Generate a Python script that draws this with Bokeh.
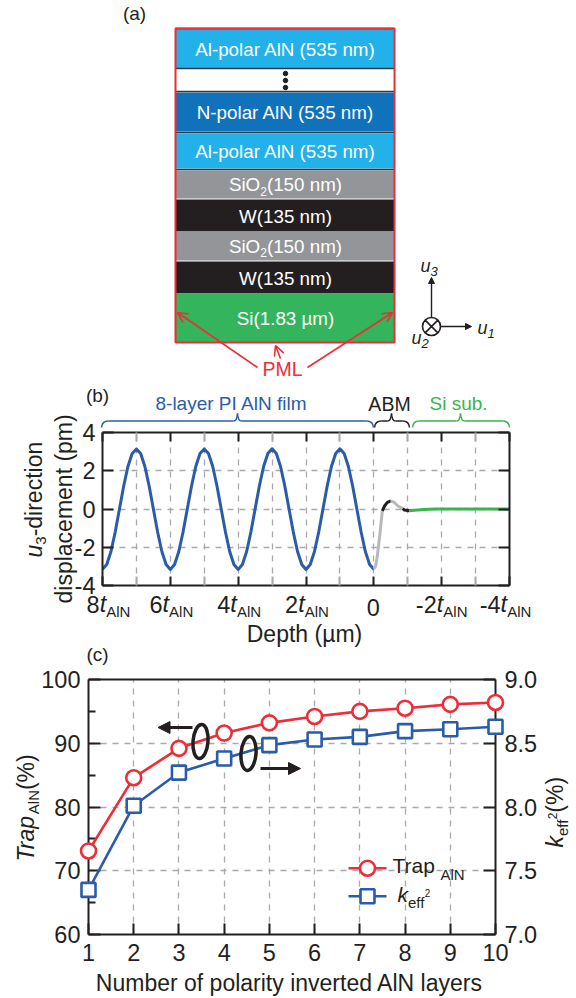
import math
from bokeh.embed import file_html
from bokeh.resources import INLINE
from bokeh.plotting import figure
from bokeh.core.properties import value
from bokeh.models import (Range1d, LinearAxis, FixedTicker, Arrow, OpenHead, NormalHead, Grid)

FONT = "Liberation Sans"
DARK = "#231f20"
GREY = "#a7a9ac"
BLUE = "#2a5caa"
RED = "#ed2d37"
GREEN = "#39b54a"

# ---------- (a) layer stack ----------
layer_names = ["Al-polar AlN (535 nm)", "", "N-polar AlN (535 nm)", "Al-polar AlN (535 nm)",
               "SiO2", "W(135 nm)", "SiO2", "W(135 nm)", "Si(1.83 \u00b5m)"]
layer_colors = ["#22b1e8", "#ffffff", "#1072bb", "#22b1e8", "#939598", "#231f20", "#939598", "#231f20", "#34b45d"]
layer_top = [28, 68, 92, 133, 170, 199, 231, 261, 293]
layer_bottom = [68, 91, 131, 168, 198, 231, 260, 293, 342]

# ---------- (b) displacement ----------
film_depth = [8 - i * 0.125 for i in range(65)]
film_u3 = [-3.15, -2.9, -2.22, -1.2, 0.0, 1.2, 2.22, 2.9, 3.13, 2.9, 2.22, 1.2, 0.0, -1.2, -2.22, -2.9,
           -3.16, -2.9, -2.22, -1.2, 0.0, 1.2, 2.22, 2.9, 3.14, 2.9, 2.22, 1.2, 0.0, -1.2, -2.22, -2.9,
           -3.16, -2.9, -2.22, -1.2, 0.0, 1.2, 2.22, 2.9, 3.15, 2.9, 2.22, 1.2, 0.0, -1.2, -2.22, -2.9,
           -3.16, -2.9, -2.22, -1.2, 0.0, 1.2, 2.22, 2.9, 3.15, 2.9, 2.22, 1.2, 0.0, -1.2, -2.22, -2.9, -3.15]
sio2_depth = [0.0, -0.05, -0.1, -0.18, -0.25]
sio2_u3 = [-3.13, -3.0, -2.5, -1.3, -0.1]
w_depth = [-0.25, -0.32, -0.4, -0.5]
w_u3 = [-0.1, 0.17, 0.35, 0.43]
sio2b_depth = [-0.5, -0.6, -0.7, -0.85]
sio2b_u3 = [0.43, 0.35, 0.17, 0.02]
wb_depth = [-0.85, -0.9, -1.05]
wb_u3 = [0.02, -0.05, -0.09]
si_depth = [-1.05, -1.2, -1.5, -1.8, -4.0]
si_u3 = [-0.09, -0.07, -0.03, 0.0, 0.0]
b_xticks = [8, 6, 4, 2, 0, -2, -4]
b_xminor = [7, 5, 3, 1, -1, -3]
b_xlabels = ["8", "6", "4", "2", "0", "-2", "-4"]
b_yticks = [-4, -2, 0, 2, 4]
b_ylabels = ["-4", "-2", "0", "2", "4"]

# ---------- (c) trapping ----------
layers = [1, 2, 3, 4, 5, 6, 7, 8, 9, 10]
trap_aln = [73.1, 84.6, 89.2, 91.6, 93.2, 94.2, 95.0, 95.5, 96.1, 96.4]
keff2 = [7.35, 8.01, 8.27, 8.38, 8.485, 8.53, 8.55, 8.595, 8.61, 8.63]
c_yticks = [60, 70, 80, 90, 100]
c_yminor = [65, 75, 85, 95]
c_rticks = [7.0, 7.5, 8.0, 8.5, 9.0]

W = 560

def bare(p, top, left=8):
    p.background_fill_color = None
    p.border_fill_color = None
    p.outline_line_color = None
    p.styles = {"position": "absolute", "left": f"{left}px", "top": f"{top}px"}
    return p

def style_axis(ax, fs="23.5px", standoff=8, tick=11):
    ax.axis_line_color = DARK
    ax.axis_line_width = 2
    ax.major_tick_in = tick
    ax.major_tick_out = 0
    ax.major_tick_line_color = DARK
    ax.major_tick_line_width = 2
    ax.minor_tick_in = 0
    ax.minor_tick_out = 0
    ax.minor_tick_line_color = None
    ax.major_label_text_font = FONT
    ax.major_label_text_font_size = fs
    ax.major_label_text_color = DARK
    ax.major_label_standoff = standoff

def no_labels(ax):
    ax.major_label_text_font_size = "1px"
    ax.major_label_text_color = None
    ax.major_label_standoff = 0

# ---------- figure (b) ----------
b = bare(figure(width=W, height=183, x_range=Range1d(8, -4), y_range=Range1d(-4, 4),
                output_backend="svg", toolbar_location=None,
                x_axis_type=None, y_axis_type=None,
                min_border_left=94, min_border_right=59, min_border_top=15, min_border_bottom=15), 417)
xt = FixedTicker(ticks=b_xticks, minor_ticks=b_xminor)
yt = FixedTicker(ticks=b_yticks)
for side in ("below", "above"):
    ax = LinearAxis(ticker=xt)
    style_axis(ax, tick=9)
    no_labels(ax)
    ax.minor_tick_in = 9
    ax.minor_tick_line_color = GREY
    ax.minor_tick_line_width = 2
    b.add_layout(ax, side)
for side in ("left", "right"):
    ax = LinearAxis(ticker=yt)
    style_axis(ax, fs="23.5px", standoff=7, tick=11)
    ax.major_label_overrides = dict(zip(b_yticks, b_ylabels))
    if side == "right":
        no_labels(ax)
    b.add_layout(ax, side)
b.add_layout(Grid(dimension=0, ticker=xt, grid_line_color=GREY, grid_line_dash="6 6", grid_line_width=1.3,
                  minor_grid_line_color=GREY, minor_grid_line_dash="6 6", minor_grid_line_width=1.3))
b.add_layout(Grid(dimension=1, ticker=yt, grid_line_color=GREY, grid_line_dash="6 6", grid_line_width=1.3))
LW = 3
b.line(film_depth, film_u3, line_color=BLUE, line_width=LW, line_join="round")
b.line(sio2_depth, sio2_u3, line_color="#b6b8ba", line_width=LW)
b.line(w_depth, w_u3, line_color=DARK, line_width=LW)
b.line(sio2b_depth, sio2b_u3, line_color="#b6b8ba", line_width=LW)
b.line(wb_depth, wb_u3, line_color=DARK, line_width=LW)
b.line(si_depth, si_u3, line_color=GREEN, line_width=LW)

# ---------- figure (c) axes ----------
c = bare(figure(width=W, height=311, x_range=Range1d(1, 10), y_range=Range1d(60, 100),
                output_backend="svg", toolbar_location=None,
                x_axis_type=None, y_axis_type=None,
                min_border_left=80, min_border_right=73, min_border_top=15, min_border_bottom=41), 664)
c.extra_y_ranges = {"k": Range1d(7, 9)}
cx = FixedTicker(ticks=layers)
cy = FixedTicker(ticks=c_yticks, minor_ticks=c_yminor)
ax = LinearAxis(ticker=cx)
style_axis(ax, standoff=9, tick=11)
c.add_layout(ax, "below")
ax = LinearAxis(ticker=cx)
style_axis(ax, tick=5)
no_labels(ax)
ax.major_tick_line_color = None
c.add_layout(ax, "above")
ax = LinearAxis(ticker=cy)
style_axis(ax, standoff=8, tick=12)
ax.minor_tick_in = 7
ax.minor_tick_line_color = DARK
ax.minor_tick_line_width = 2
c.add_layout(ax, "left")
ax = LinearAxis(ticker=FixedTicker(ticks=c_rticks), y_range_name="k")
style_axis(ax, standoff=9, tick=12)
ax.major_label_overrides = {v: f"{v:.1f}" for v in c_rticks}
c.add_layout(ax, "right")
c.add_layout(Grid(dimension=0, ticker=cx, grid_line_color=GREY, grid_line_dash="6 6", grid_line_width=1.3))
c.add_layout(Grid(dimension=1, ticker=FixedTicker(ticks=c_yticks), grid_line_color=GREY, grid_line_dash="6 6", grid_line_width=1.3))

# ---------- figure (c) data overlay: same scales, wider frame so markers are not cut ----------
PX_L, PX_R, PX_T, PX_B = 88.0, 495.0, 679.0, 934.0
D_T, D_B = 660.0, 950.0
sx = (PX_R - PX_L) / 9
sy = (PX_B - PX_T) / 40
sk = (PX_B - PX_T) / 2
d = bare(figure(width=W, height=int(D_B - D_T),
                x_range=Range1d(1 - (PX_L - 8) / sx, 10 + (568 - PX_R) / sx),
                y_range=Range1d(60 - (D_B - PX_B) / sy, 100 + (PX_T - D_T) / sy),
                output_backend="svg", toolbar_location=None,
                x_axis_type=None, y_axis_type=None, min_border=0), 660)
d.extra_y_ranges = {"k": Range1d(7 - (D_B - PX_B) / sk, 9 + (PX_T - D_T) / sk)}
d.line(layers, trap_aln, line_color=RED, line_width=2.6)
d.scatter(layers, trap_aln, marker="circle", size=15, fill_color="white", line_color=RED, line_width=2.6)
d.line(layers, keff2, line_color=BLUE, line_width=2.6, y_range_name="k")
d.scatter(layers, keff2, marker="square", size=14, fill_color="white", line_color=BLUE, line_width=2.6, y_range_name="k")

# ---------- full page layer for the schematic, annotations and mixed-style texts ----------
a = bare(figure(width=576, height=996, x_range=Range1d(0, 576), y_range=Range1d(996, 0),
                output_backend="svg", toolbar_location=None,
                x_axis_type=None, y_axis_type=None, min_border=0), 0, left=0)

WIDTHS = {' ': 278, '-': 333, '(': 333, ')': 333, '%': 889, 'A': 667, 'l': 222, 'I': 278, 'N': 722,
          't': 278, 'k': 500, 'e': 556, 'f': 278, 'T': 611, 'r': 333, 'S': 667, 'i': 222, 'O': 778,
          'W': 944, 'm': 833, 'c': 500, 's': 500, 'y': 500, 'D': 722, 'P': 667, 'M': 833, 'L': 556,
          'B': 667, 'v': 500, 'b': 556, '.': 278, '\u00b5': 576}
MID = 0.36

def tw(s, size):
    return sum(WIDTHS.get(ch, 556) for ch in s) * size / 1000

def runs(items, x, y, rot=False, color=DARK):
    pos = 0.0
    for it in items:
        s, size = it[0], it[1]
        style = it[2] if len(it) > 2 else "normal"
        dy = it[3] if len(it) > 3 else 0
        off = dy - MID * size
        if rot:
            px, py, ang = x + off, y - pos, math.pi / 2
        else:
            px, py, ang = x + pos, y + off, 0
        a.text(x=[px], y=[py], text=[s], text_font=value(FONT), text_font_size=f"{size}px",
               text_font_style=style, text_color=color, text_align="left",
               text_baseline="middle", angle=ang)
        pos += tw(s, size)

def ctext(s, x, y, size, color=DARK):
    a.text(x=[x], y=[y], text=[s], text_font=value(FONT), text_font_size=f"{size}px", text_color=color,
           text_align="center", text_baseline="middle")

# layers
a.quad(left=175, right=394, top=layer_top, bottom=layer_bottom, fill_color=layer_colors, line_color=None)
a.segment(x0=175, x1=394, y0=[28, 68, 91, 132, 169], y1=[28, 68, 91, 132, 169], line_color="#2b3a42", line_width=1.5)
a.quad(left=175, right=394, top=28, bottom=342, fill_color=None, line_color=RED, line_width=2)
for i, name in enumerate(layer_names):
    cy_ = (layer_top[i] + layer_bottom[i]) / 2
    if name == "SiO2":
        w_ = tw("SiO", 18.8) + tw("2", 12) + tw("(150 nm)", 18.8)
        runs([("SiO", 18.8), ("2", 12, "normal", 4), ("(150 nm)", 18.8)], 285 - w_ / 2, cy_ + 7, color="#ffffff")
    elif name:
        ctext(name, 285, cy_ + 0.5, 18.8, "#ffffff")
a.scatter([285, 285, 285], [73, 80, 87], size=4.5, color=DARK)
ctext("(a)", 134, 13, 19)
ctext("PML", 282, 368, 19.5, RED)
for x0, y0, x1, y1 in [(257, 367, 177, 312), (307, 367, 392, 312), (280, 358, 275, 345)]:
    a.add_layout(Arrow(end=OpenHead(size=10, line_color=RED, line_width=1.6), x_start=x0, y_start=y0, x_end=x1, y_end=y1,
                       line_color=RED, line_width=1.6))
# coordinate symbol
a.scatter([431], [326], marker="circle_x", size=18, fill_color=None, line_color=DARK, line_width=1.6)
a.add_layout(Arrow(end=NormalHead(size=6, fill_color=DARK, line_color=DARK), x_start=431, y_start=317, x_end=431, y_end=277,
                   line_color=DARK, line_width=1.4))
a.add_layout(Arrow(end=NormalHead(size=6, fill_color=DARK, line_color=DARK), x_start=440, y_start=326, x_end=471, y_end=326,
                   line_color=DARK, line_width=1.4))
runs([("u", 18, "italic"), ("3", 13, "italic", 4)], 420, 272)
runs([("u", 18, "italic"), ("1", 13, "italic", 4)], 477, 334)
runs([("u", 18, "italic"), ("2", 13, "italic", 4)], 411, 344)

# (b) texts
ctext("(b)", 97, 395, 19)
ctext("8-layer PI AlN film", 231, 403, 19, BLUE)
ctext("ABM", 389, 403, 19.5)
ctext("Si sub.", 458, 403, 19, GREEN)

def brace(x0, x1, xm, color):
    top, mid, end = 413.0, 420.5, 427.0
    r = 7.0
    a.quadratic(x0=[x0, x1, xm, xm], y0=[end, end, top, top],
                x1=[x0 + r, x1 - r, xm - 4, xm + 4], y1=[mid, mid, mid, mid],
                cx=[x0 + 0.5, x1 - 0.5, xm - 0.5, xm + 0.5], cy=[mid, mid, mid, mid],
                line_color=color, line_width=1.5)
    a.segment(x0=[x0 + r, xm + 4], y0=[mid, mid], x1=[xm - 4, x1 - r], y1=[mid, mid], line_color=color, line_width=1.5)

brace(101, 373, 237, BLUE)
brace(374, 409, 391, DARK)
brace(412, 509, 460, GREEN)

runs([("u", 23, "italic"), ("3", 15, "normal", 4), ("-direction", 23)], 42, 557, rot=True)
runs([("displacement (pm)", 23)], 72, 603, rot=True)

T_PX = (509.0 - 102.0) / 12
for val, lab in zip(b_xticks, b_xlabels):
    cxp = 102 + (8 - val) * T_PX
    if lab == "0":
        ctext(lab, cxp - 0.5, 607, 23.5)
        continue
    w_ = tw(lab + "t", 23.5) + tw("AlN", 15)
    c0 = cxp + 1 if val > 0 else cxp
    if val == 8:
        c0 = cxp + 6
    if val == -4:
        c0 = cxp - 4
    runs([(lab, 23.5), ("t", 23.5, "italic"), ("AlN", 15, "normal", 4)], c0 - w_ / 2, 612)
ctext("Depth (\u00b5m)", 304, 633, 23)

# (c) texts
ctext("(c)", 97, 654, 19)
ctext("Number of polarity inverted AlN layers", 289, 982, 23)
runs([("Trap", 23, "italic"), ("AlN", 15, "normal", 4), ("(%)", 23)], 34, 861, rot=True)
runs([("k", 23, "italic"), ("eff", 15, "normal", 4), ("2", 12, "normal", -7), ("(%)", 23)], 563, 847, rot=True)

a.line([348, 386], [867.7, 867.7], line_color=RED, line_width=2.6)
a.scatter([367], [867.7], marker="circle", size=15, fill_color="white", line_color=RED, line_width=2.6)
a.line([348, 386], [895.7, 895.7], line_color=BLUE, line_width=2.6)
a.scatter([367], [895.7], marker="square", size=14, fill_color="white", line_color=BLUE, line_width=2.6)
runs([("Trap", 21)], 392, 873)
runs([("AlN", 15)], 440, 879)
runs([("k", 21, "italic"), ("eff", 15, "normal", 5), ("2", 10, "normal", -6)], 397, 902)

a.ellipse(x=[200, 248], y=[741, 753], width=[15, 15], height=[34, 34], angle=[-0.08, -0.08],
          fill_color=None, line_color=DARK, line_width=3.5)
a.add_layout(Arrow(end=NormalHead(size=12, fill_color=DARK, line_color=DARK), x_start=192, y_start=727, x_end=157.5, y_end=727,
                   line_color=DARK, line_width=3))
a.add_layout(Arrow(end=NormalHead(size=12, fill_color=DARK, line_color=DARK), x_start=260, y_start=768, x_end=300, y_end=768,
                   line_color=DARK, line_width=3))

open("out.html", "w").write(file_html([b, c, d, a], INLINE))
